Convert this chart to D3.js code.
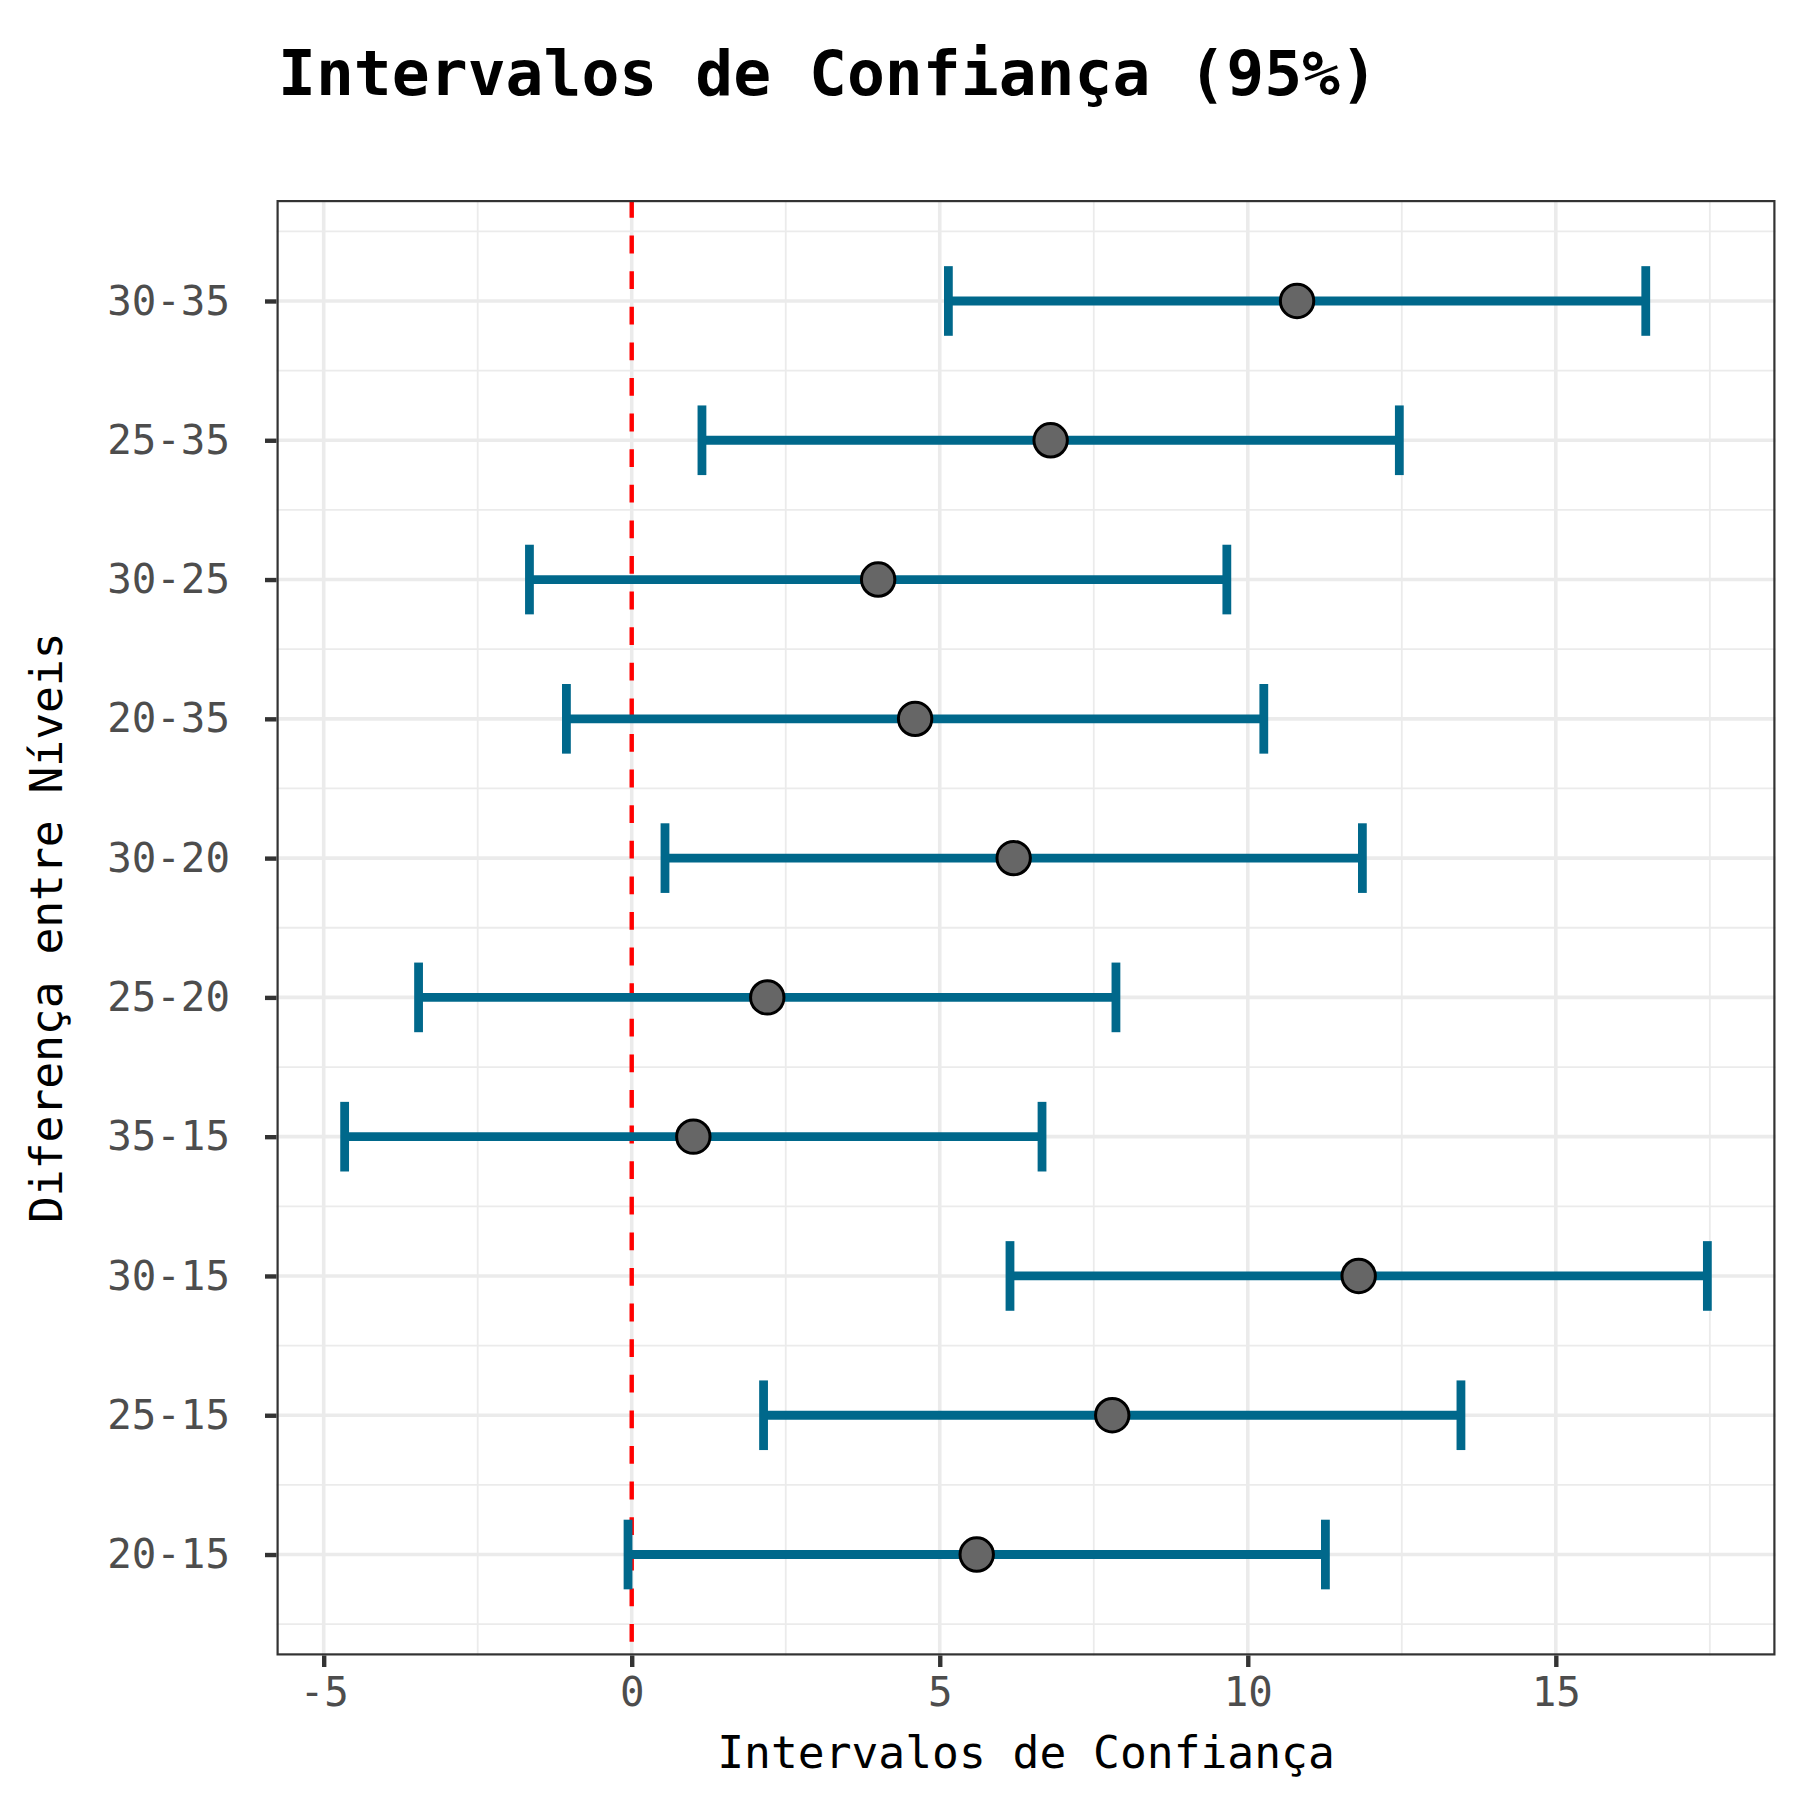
<!DOCTYPE html>
<html>
<head>
<meta charset="utf-8">
<title>Intervalos de Confiança</title>
<style>
  body { margin: 0; background: #fff; }
  text { font-family: "DejaVu Sans Mono", monospace; }
</style>
</head>
<body>
<script src="https://d3js.org/d3.v7.min.js"></script>
<script>
// comparações (de cima para baixo)
var niveis = ["30-35", "25-35", "30-25", "20-35", "30-20", "25-20", "35-15", "30-15", "25-15", "20-15"];
var diferenca = [10.8, 6.8, 4.0, 4.6, 6.2, 2.2, 1.0, 11.8, 7.8, 5.6];
var inferior = [5.14, 1.14, -1.66, -1.06, 0.54, -3.46, -4.66, 6.14, 2.14, -0.06];
var superior = [16.46, 12.46, 9.66, 10.26, 11.86, 7.86, 6.66, 17.46, 13.46, 11.26];
var xTicks = [-5, 0, 5, 10, 15];

var W = 1800, H = 1800;
var pLeft = 276.5, pTop = 200, pRight = 1775.5, pBottom = 1655.5;

var dados = niveis.map(function(n, i) {
  return { nivel: n, dif: diferenca[i], lwr: inferior[i], upr: superior[i] };
});

var svg = d3.select("body").append("svg")
    .attr("width", W)
    .attr("height", H);

// escala x com expansão de 5% (como o ggplot)
var lo = d3.min(inferior), hi = d3.max(superior), pad = (hi - lo) * 0.05;
var x = d3.scaleLinear()
    .domain([lo - pad, hi + pad])
    .range([pLeft, pRight]);

var y = d3.scalePoint()
    .domain(niveis)
    .range([pTop, pBottom])
    .padding(0.725);
var step = y.step();

var panel = svg.append("g");

// grade secundária
var minorX = d3.range(-7.5, 20, 5).filter(function(v) { return v > x.domain()[0] && v < x.domain()[1]; });
panel.selectAll("line.minx")
  .data(minorX)
  .enter().append("line")
    .attr("x1", function(d) { return x(d); })
    .attr("x2", function(d) { return x(d); })
    .attr("y1", pTop).attr("y2", pBottom)
    .attr("stroke", "#EBEBEB").attr("stroke-width", 1.8);

var minorY = niveis.map(function(n) { return y(n) - step / 2; });
minorY.push(y(niveis[niveis.length - 1]) + step / 2);
panel.selectAll("line.miny")
  .data(minorY)
  .enter().append("line")
    .attr("x1", pLeft).attr("x2", pRight)
    .attr("y1", function(d) { return d; })
    .attr("y2", function(d) { return d; })
    .attr("stroke", "#EBEBEB").attr("stroke-width", 1.8);

// grade principal
panel.selectAll("line.majx")
  .data(xTicks)
  .enter().append("line")
    .attr("x1", function(d) { return x(d); })
    .attr("x2", function(d) { return x(d); })
    .attr("y1", pTop).attr("y2", pBottom)
    .attr("stroke", "#EBEBEB").attr("stroke-width", 3.6);

panel.selectAll("line.majy")
  .data(niveis)
  .enter().append("line")
    .attr("x1", pLeft).attr("x2", pRight)
    .attr("y1", function(d) { return y(d); })
    .attr("y2", function(d) { return y(d); })
    .attr("stroke", "#EBEBEB").attr("stroke-width", 3.6);

// linha de referência em zero
panel.append("line")
    .attr("x1", x(0)).attr("x2", x(0))
    .attr("y1", pTop).attr("y2", pBottom)
    .attr("stroke", "red")
    .attr("stroke-width", 4.4)
    .attr("stroke-dasharray", "17.8,17.8");

// barras de erro
var cor = "#00688B", cap = step * 0.25;
var eb = panel.selectAll("g.eb")
  .data(dados)
  .enter().append("g")
    .attr("stroke", cor)
    .attr("stroke-width", 8.8);

eb.append("line")
    .attr("x1", function(d) { return x(d.lwr); })
    .attr("x2", function(d) { return x(d.upr); })
    .attr("y1", function(d) { return y(d.nivel); })
    .attr("y2", function(d) { return y(d.nivel); });
eb.append("line")
    .attr("x1", function(d) { return x(d.lwr); })
    .attr("x2", function(d) { return x(d.lwr); })
    .attr("y1", function(d) { return y(d.nivel) - cap; })
    .attr("y2", function(d) { return y(d.nivel) + cap; });
eb.append("line")
    .attr("x1", function(d) { return x(d.upr); })
    .attr("x2", function(d) { return x(d.upr); })
    .attr("y1", function(d) { return y(d.nivel) - cap; })
    .attr("y2", function(d) { return y(d.nivel) + cap; });

// pontos
panel.selectAll("circle")
  .data(dados)
  .enter().append("circle")
    .attr("cx", function(d) { return x(d.dif); })
    .attr("cy", function(d) { return y(d.nivel); })
    .attr("r", 16.7)
    .attr("fill", "#666666")
    .attr("stroke", "black")
    .attr("stroke-width", 3);

// borda do painel (metade interna)
svg.append("rect")
    .attr("x", pLeft + 1.1).attr("y", pTop + 1.1)
    .attr("width", pRight - pLeft - 2.2).attr("height", pBottom - pTop - 2.2)
    .attr("fill", "none")
    .attr("stroke", "#333333")
    .attr("stroke-width", 2.2);

// eixos
var xAxis = svg.append("g")
    .attr("transform", "translate(0," + pBottom + ")")
    .call(d3.axisBottom(x).tickValues(xTicks).tickSize(11.5).tickPadding(10).tickFormat(d3.format("d")));
var yAxis = svg.append("g")
    .attr("transform", "translate(" + pLeft + ",0)")
    .call(d3.axisLeft(y).tickSize(11.5).tickPadding(35));

[xAxis, yAxis].forEach(function(a) {
  a.select(".domain").remove();
  a.selectAll(".tick line").attr("stroke", "#333333").attr("stroke-width", 4.4);
  a.selectAll(".tick text")
    .attr("fill", "#4D4D4D")
    .style("font-family", "'DejaVu Sans Mono', monospace")
    .style("font-size", "40.8px");
});
xAxis.selectAll(".tick text").text(function(d) { return d < 0 ? "-" + Math.abs(d) : d; });

// títulos
svg.append("text")
    .attr("x", 278).attr("y", 95)
    .style("font-size", "63px")
    .style("font-weight", "bold")
    .attr("fill", "black")
    .text("Intervalos de Confiança (95%)");

svg.append("text")
    .attr("x", (pLeft + pRight) / 2).attr("y", 1768)
    .attr("text-anchor", "middle")
    .style("font-size", "44.6px")
    .attr("fill", "black")
    .text("Intervalos de Confiança");

svg.append("text")
    .attr("transform", "translate(62," + ((pTop + pBottom) / 2) + ") rotate(-90)")
    .attr("text-anchor", "middle")
    .style("font-size", "44.6px")
    .attr("fill", "black")
    .text("Diferença entre Níveis");
</script>
</body>
</html>
